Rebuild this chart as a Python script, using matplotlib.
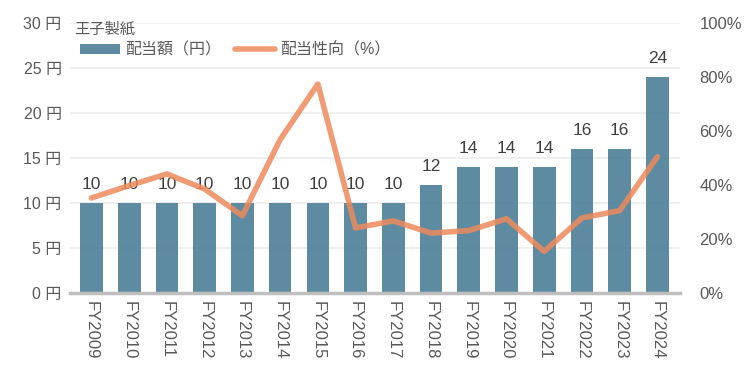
import numpy as np
import matplotlib
matplotlib.use('Agg')
from matplotlib import pyplot as plt

plt.rcParams['font.family'] = ['Liberation Sans', 'Noto Sans CJK JP', 'DejaVu Sans']

years = ['FY2009', 'FY2010', 'FY2011', 'FY2012', 'FY2013', 'FY2014', 'FY2015', 'FY2016',
         'FY2017', 'FY2018', 'FY2019', 'FY2020', 'FY2021', 'FY2022', 'FY2023', 'FY2024']
dividend = [10, 10, 10, 10, 10, 10, 10, 10, 10, 12, 14, 14, 14, 16, 16, 24]
payout = [35.2, 39.8, 44.1, 38.5, 28.6, 56.8, 77.4, 24.1, 26.7, 22.2, 23.1, 27.5, 15.4, 27.8, 30.5, 50.5]
left_ticks = [0, 5, 10, 15, 20, 25, 30]
right_ticks = [0, 20, 40, 60, 80, 100]

txt = '#595959'
bar_c = '#4f8199'
line_c = '#ee8a5c'

fig = plt.figure(figsize=(7.5, 3.77), dpi=100)
ax = fig.add_axes([70 / 750, 84 / 377, 610 / 750, 270 / 377])
x = np.arange(len(years))

bars = ax.bar(x, dividend, width=0.6, color=bar_c, alpha=0.92, zorder=2)
for xi, v in zip(x, dividend):
    ax.text(xi, v + 1.55, str(v), ha='center', va='baseline', fontsize=12.5, color='#404040', zorder=5)

ax.set_xlim(-0.57, 15.6)
ax.set_ylim(0, 30)
ax.set_yticks(left_ticks)
ax.set_yticklabels([f'{t} 円' for t in left_ticks], fontsize=11.5, color=txt)
ax.set_xticks(x)
ax.set_xticklabels(years, rotation=270, fontsize=12, color=txt)
ax.tick_params(axis='both', length=0, pad=6)
ax.grid(axis='y', color='#ececec', linewidth=1.2, zorder=0)
for s in ['top', 'right', 'left']:
    ax.spines[s].set_visible(False)
ax.spines['bottom'].set_color('#bfbfbf')
ax.spines['bottom'].set_linewidth(2.5)

ax2 = ax.twinx()
line, = ax2.plot(x, payout, color=line_c, linewidth=4, alpha=0.85, solid_capstyle='round', zorder=4)
ax2.set_ylim(0, 100)
ax2.set_yticks(right_ticks)
ax2.set_yticklabels([f'{t}%' for t in right_ticks], fontsize=12, color=txt)
ax2.tick_params(axis='y', length=0, pad=14)
for s in ['top', 'right', 'left', 'bottom']:
    ax2.spines[s].set_visible(False)

fig.text(74 / 750, 1 - 29 / 377, '王子製紙', fontsize=11, color=txt, va='center', ha='left')
fig.legend([bars, line], ['配当額（円）', '配当性向（%）'], loc='center left',
           bbox_to_anchor=(80 / 750, 1 - 50 / 377), ncol=2, frameon=False, fontsize=11.5,
           handlelength=2.5, handleheight=0.55, columnspacing=0.9, handletextpad=0.3,
           labelcolor=txt, borderaxespad=0, borderpad=0)

fig.savefig('out.png', dpi=100)
